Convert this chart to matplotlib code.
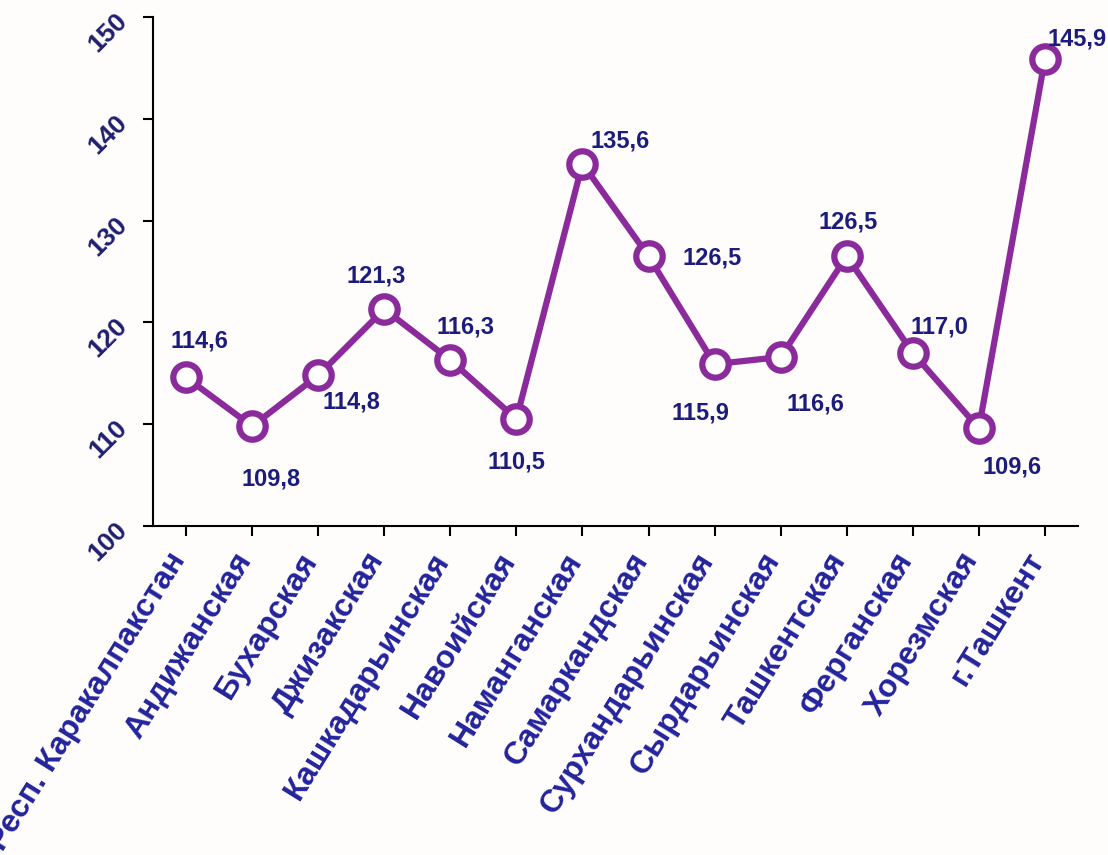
import matplotlib
matplotlib.use("Agg")
import matplotlib.pyplot as plt

regions = ['Респ. Каракалпакстан', 'Андижанская', 'Бухарская', 'Джизакская',
           'Кашкадарьинская', 'Навоийская', 'Наманганская', 'Самаркандская',
           'Сурхандарьинская', 'Сырдарьинская', 'Ташкентская', 'Ферганская',
           'Хорезмская', 'г.Ташкент']
values = [114.6, 109.8, 114.8, 121.3, 116.3, 110.5, 135.6, 126.5,
          115.9, 116.6, 126.5, 117.0, 109.6, 145.9]
# label offsets in points (dx, dy)
offsets = [(10, 26), (14, -38), (24, -19), (-6, 24), (11, 24), (0, -31),
           (27, 16), (46, -1), (-10, -35), (25, -34), (1, 25), (19, 19),
           (24, -28), (23, 14)]

plt.rcParams['font.family'] = ['Liberation Sans', 'DejaVu Sans']
plt.rcParams['font.weight'] = 'bold'

bg = '#fffcfc'
fig = plt.figure(figsize=(11.08, 8.55), dpi=100, facecolor=bg)
ax = fig.add_axes([153 / 1108, 1 - 526 / 855, (1078 - 153) / 1108, (526 - 17) / 855])
ax.set_facecolor(bg)

x = list(range(len(regions)))
ax.plot(x, values, color='#8b2a9b', lw=4.5, marker='o', ms=19,
        mfc='white', mec='#8b2a9b', mew=4.5, clip_on=False, zorder=3)

for xi, v, (dx, dy) in zip(x, values, offsets):
    ax.annotate(f'{v:.1f}'.replace('.', ','), (xi, v), xytext=(dx, dy),
                textcoords='offset points', ha='center', va='center',
                fontsize=17, fontweight='bold', color='#1c1c7c')

ax.set_xlim(-0.5, 13.5)
ax.set_ylim(100, 150)
ax.set_yticks(range(100, 151, 10))
ax.set_xticks(x)
ax.set_xticklabels(regions, rotation=58, ha='right', va='baseline',
                   rotation_mode='anchor',
                   fontsize=23, fontweight='bold', color='#23239c')
for lab in ax.get_yticklabels():
    lab.set_rotation(45)
    lab.set_fontsize(19)
    lab.set_fontweight('bold')
    lab.set_color('#1f1f70')
    lab.set_ha('right')
    lab.set_va('center')
    lab.set_rotation_mode('anchor')

for s in ['top', 'right']:
    ax.spines[s].set_visible(False)
for s in ['left', 'bottom']:
    ax.spines[s].set_linewidth(1.5)
ax.tick_params(axis='both', direction='out', length=7, width=1.5)
ax.tick_params(axis='x', pad=17)
ax.tick_params(axis='y', pad=14)

fig.savefig('out.png', dpi=100, facecolor=bg)
